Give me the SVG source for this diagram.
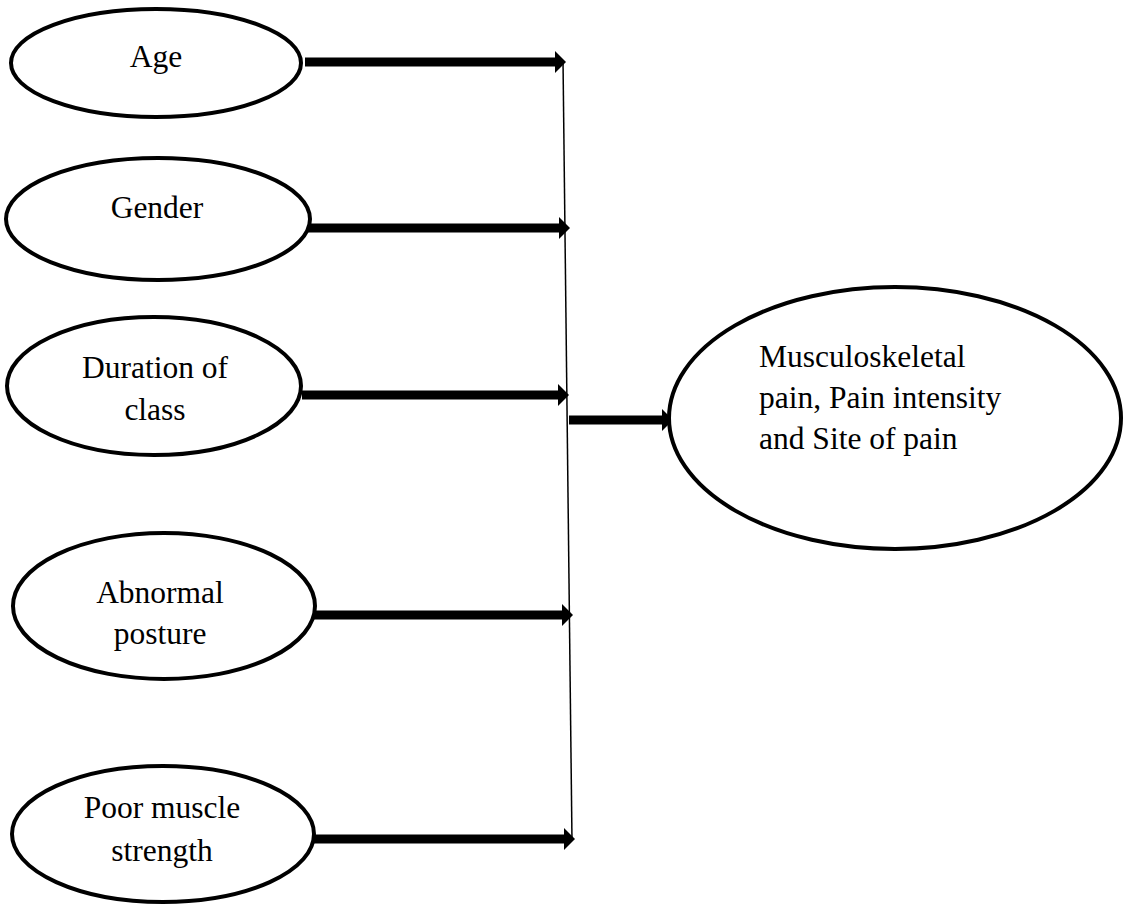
<svg xmlns="http://www.w3.org/2000/svg" width="1123" height="904" viewBox="0 0 1123 904">
  <style>
    .node ellipse { fill: #fff; stroke: #000; stroke-width: 4; }
    .node text { font-family: "Liberation Serif", "Times New Roman", serif; font-size: 31.5px; fill: #000; }
    .c { text-anchor: middle; }
    .thick { stroke: #000; stroke-width: 9; fill: none; marker-end: url(#ah); }
    .thin { stroke: #000; stroke-width: 1.5; fill: none; }
  </style>
  <defs>
    <marker id="ah" markerUnits="userSpaceOnUse" viewBox="0 0 11 22" refX="0" refY="11" markerWidth="11" markerHeight="22" orient="auto">
      <path d="M0,0 L11,11 L0,22 Z" fill="#000"/>
    </marker>
  </defs>
  <rect width="1123" height="904" fill="#fff"/>

  <g id="connectors">
    <line class="thin" x1="563" y1="60" x2="572" y2="841"/>
    <line class="thick" x1="305" y1="62" x2="555" y2="62"/>
    <line class="thick" x1="306" y1="228" x2="559" y2="228"/>
    <line class="thick" x1="302" y1="395" x2="558" y2="395"/>
    <line class="thick" x1="313" y1="615" x2="562" y2="615"/>
    <line class="thick" x1="314" y1="839" x2="564" y2="839"/>
    <line class="thick" x1="569" y1="420" x2="662" y2="420"/>
  </g>

  <g id="age" class="node">
    <ellipse cx="156" cy="63" rx="145" ry="54"/>
    <text class="c" x="156" y="67">Age</text>
  </g>
  <g id="gender" class="node">
    <ellipse cx="158" cy="219" rx="152" ry="61"/>
    <text class="c" x="157" y="218">Gender</text>
  </g>
  <g id="duration" class="node">
    <ellipse cx="154" cy="386" rx="147" ry="69"/>
    <text class="c" x="155" y="378">Duration of</text>
    <text class="c" x="155" y="420">class</text>
  </g>
  <g id="abnormal" class="node">
    <ellipse cx="164" cy="606" rx="151" ry="73"/>
    <text class="c" x="160" y="603">Abnormal</text>
    <text class="c" x="160" y="644">posture</text>
  </g>
  <g id="poor" class="node">
    <ellipse cx="163" cy="834" rx="151" ry="68"/>
    <text class="c" x="162" y="818">Poor muscle</text>
    <text class="c" x="162" y="861">strength</text>
  </g>
  <g id="outcome" class="node">
    <ellipse cx="895" cy="418" rx="226" ry="131"/>
    <text x="759" y="367">Musculoskeletal</text>
    <text x="759" y="408">pain, Pain intensity</text>
    <text x="759" y="449">and Site of pain</text>
  </g>
</svg>
